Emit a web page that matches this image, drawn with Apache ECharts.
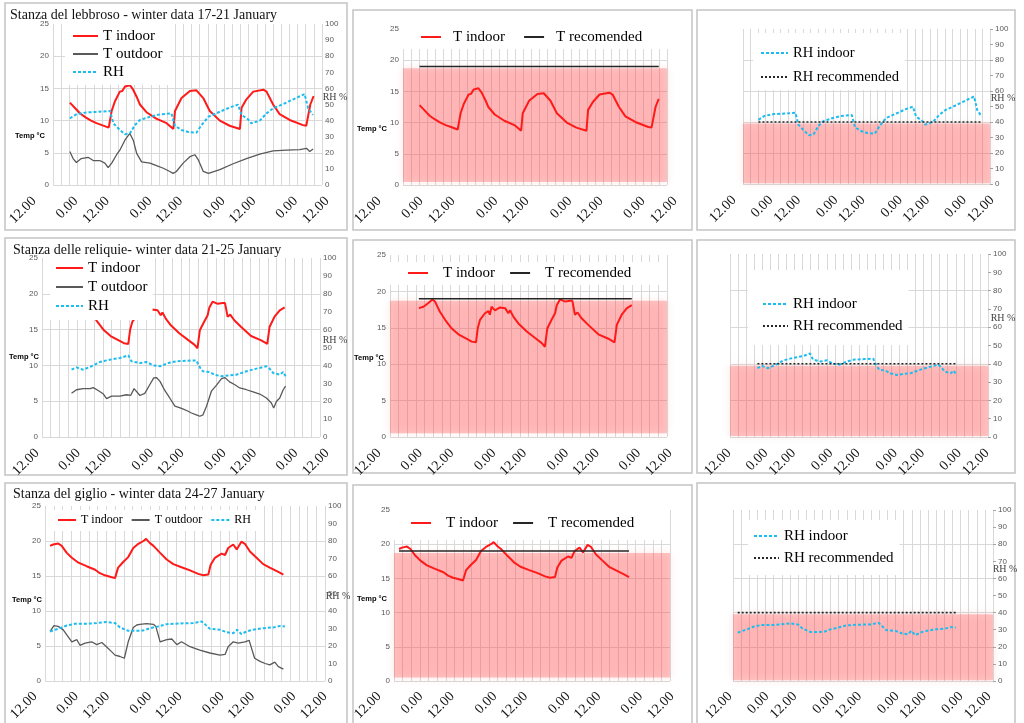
<!DOCTYPE html>
<html>
<head>
<meta charset="utf-8">
<title>Winter data</title>
<script src="https://cdn.jsdelivr.net/npm/echarts@6/dist/echarts.min.js"></script>
<style>
html, body { margin: 0; padding: 0; background: #fff; }
#main { width: 1024px; height: 723px; }
</style>
</head>
<body>
<div id="main"></div>
<script>
// x tick labels of the time axis (half-day slots)
var tickLabels = ['12.00', '0.00', '12.00', '0.00', '12.00', '0.00', '12.00', '0.00', '12.00'];
var tickPos = [0, 0.57, 1, 1.58, 2, 2.58, 3, 3.57, 4];

var tRecommended = 19;
var rhRecommended = 40;
var tCritical = 18.7;
var rhCritical = 39;

// Stanza del lebbroso, 17-21 January: [hour, value]
var lebTIn = [[6.2,12.8],[8,12.0],[10,11.1],[12,10.5],[14,10.0],[16,9.6],[18,9.3],[20.5,8.9],[21,8.7],
  [21.6,11.5],[22.8,13.0],[24.6,14.5],[25.5,14.6],[26.5,15.3],[28.3,15.5],[29.5,14.8],[31,13.5],[32,12.5],
  [34.4,11.3],[38,10.3],[41.8,9.6],[44.3,8.7],[44.9,11.5],[47.3,13.5],[50.4,14.6],[52.8,14.7],[53.4,14.9],
  [55.3,13.5],[57.7,11.5],[61.4,10.0],[65,9.2],[68.8,8.7],[69.4,12.0],[71.2,13.3],[73.7,14.5],[77.4,14.8],
  [78.6,14.5],[81,12.5],[83.4,11.0],[87.1,10.1],[92,9.3],[93.2,9.2],[94.7,12.5],[95.9,13.8]];
var lebTOut = [[6.2,5.2],[7.4,4.1],[8.6,3.5],[10.4,4.1],[12.9,4.3],[14.8,3.8],[17.2,3.8],[19.1,3.4],[20.3,2.7],
  [21.6,3.4],[23.4,4.7],[24.6,5.4],[26.5,7.0],[28.3,8.0],[29.5,7.0],[30.8,4.9],[32.6,3.6],[35.7,3.4],[38.1,3.0],
  [40.6,2.6],[43,2.1],[44.2,1.8],[45.4,2.1],[47.9,3.4],[50.4,4.4],[52.2,4.7],[53.5,3.9],[55.3,2.1],[57.2,1.8],
  [61.4,2.4],[66.3,3.3],[71.2,4.1],[76.1,4.8],[81,5.3],[85.9,5.4],[90.8,5.5],[93.3,5.7],[94.5,5.2],[95.7,5.6]];
var lebRH = [[6.2,41.4],[8.6,43.9],[12.3,45.1],[17.2,45.5],[21,46.0],[22.2,38.3],[24.6,34.2],[26.5,31.5],
  [28.3,32.1],[30.2,37.3],[32,40.4],[35.7,42.4],[39.4,43.9],[43.6,44.5],[44.9,36.6],[47.3,34.2],[49.8,32.9],
  [52.8,32.5],[54.7,37.3],[57.2,42.4],[61.4,45.5],[65.1,48.2],[68.1,49.9],[69.4,43.5],[71.8,40.8],[73,38.3],
  [76.1,40.0],[78.6,44.5],[81,47.6],[84.7,50.3],[88.4,53.2],[92.6,56.5],[93.9,47.6],[95.7,43.5]];

// Stanza delle reliquie, 21-25 January
var relTIn = [[10,17.7],[11.6,17.9],[13.3,18.4],[14.7,18.9],[15.6,18.6],[17.3,17.2],[19.1,16.1],[21.4,14.9],
  [23.7,14.1],[26,13.6],[28.3,13.1],[29.8,13.0],[30.4,14.9],[31.2,16.1],[32.9,17.0],[34.1,17.3],[34.6,16.8],
  [35.2,17.9],[36.4,17.4],[38.1,17.8],[39.9,17.7],[41,17.0],[41.6,17.4],[42.8,16.5],[44.5,15.6],[47.4,14.5],
  [50.3,13.6],[52.6,12.9],[53.7,12.4],[54.5,14.9],[56,16.1],[57.2,17.0],[57.8,18.1],[58.9,18.9],[60.7,18.6],
  [62.4,18.7],[63.2,18.7],[64.1,16.8],[65,17.1],[66.4,16.3],[68.7,15.4],[72.2,14.1],[75.7,13.5],[77.8,13.0],
  [78.6,15.4],[80.3,16.8],[82.1,17.7],[83.8,18.1]];
var relTOut = [[10.2,6.1],[11.9,6.6],[14.2,6.75],[16.6,6.75],[17.7,6.9],[19.4,6.5],[21.2,6.0],[22.3,5.35],
  [24,5.7],[26.9,5.7],[29.2,5.9],[30.6,5.8],[31.8,6.75],[33.8,5.8],[35.5,6.1],[37.2,7.3],[38.6,8.25],[39.5,8.3],
  [40.7,7.8],[42.4,6.5],[44.1,5.45],[45.9,4.3],[48.2,4.0],[50.5,3.6],[51.6,3.35],[53.3,3.1],[54.5,2.9],[55.6,3.1],
  [56.8,4.3],[58.5,6.4],[60.2,7.2],[62,8.15],[63.1,8.3],[64.8,7.7],[66.6,7.3],[68.3,6.85],[70.6,6.6],[72.9,6.3],
  [75.2,6.0],[77.5,5.45],[79.2,4.75],[80,4.05],[81,5.0],[82.1,5.45],[83.3,6.6],[84.1,7.1]];
var relRH = [[10.2,37.6],[11.9,38.9],[14.2,37.6],[17.1,39.5],[20,41.9],[23.4,43.2],[26.9,44.1],[29.8,45.6],
  [30.9,42.3],[33.8,41.3],[36.1,41.9],[38.4,40.0],[40.7,39.5],[43.6,41.3],[46.4,42.3],[49.9,42.6],[53.3,42.8],
  [54.5,38.9],[55.6,36.7],[57.9,36.3],[59.6,34.8],[62,33.9],[64.8,34.5],[67.1,34.8],[70.6,36.7],[74,38.2],
  [77.5,39.5],[78.6,38.2],[79.8,35.8],[82.1,34.8],[83.3,36.3],[84.1,33.9]];

// Stanza del giglio, 24-27 January
var gigTIn = [[1.3,19.3],[2.1,19.5],[3.4,19.65],[4.3,19.3],[5.6,18.3],[6.9,17.6],[8.6,16.9],[10.7,16.4],
  [12.9,15.9],[14.1,15.4],[15.4,15.1],[16.7,14.9],[18,14.7],[18.8,16.2],[20.1,17.0],[21.4,17.7],[22.7,19.0],
  [24,19.6],[25.3,20.0],[26,20.3],[27,19.7],[27.9,19.3],[29.6,18.3],[31.3,17.35],[33,16.7],[35.1,16.25],
  [37.3,15.8],[39.4,15.3],[40.7,15.1],[42,15.2],[42.6,16.6],[43.7,17.6],[45.4,18.2],[46.3,18.0],[47.1,19.0],
  [48.4,19.5],[49.3,18.8],[50.5,19.9],[51.4,19.6],[52.7,18.5],[54.4,17.6],[56.1,16.7],[57.8,16.2],[60,15.6],
  [61.3,15.2]];
var gigTOut = [[1.3,7.1],[2.3,7.9],[3.4,7.8],[4.7,7.3],[5.6,6.6],[6.9,5.6],[8.2,5.9],[9,5.1],[10.3,5.4],
  [12,5.6],[13.3,5.2],[14.6,5.5],[15.8,4.9],[17.1,4.2],[18,3.7],[19.3,3.5],[20.4,3.25],[21.4,5.6],[22.7,7.65],
  [23.6,8.0],[24.4,8.1],[26.1,8.2],[27.9,8.1],[28.5,7.8],[29.6,5.6],[31.3,5.9],[32.6,6.0],[33.9,5.2],[35.1,5.6],
  [37.3,4.9],[39.8,4.4],[42.4,4.0],[45,3.7],[46.3,3.8],[47.1,4.9],[48.4,5.6],[49.7,5.4],[51.4,5.6],[52.5,5.8],
  [53.1,4.7],[53.9,3.25],[55.3,2.8],[56.6,2.5],[57.8,2.3],[59.1,2.7],[60,2.05],[61.3,1.7]];
var gigRH = [[1.3,28.3],[2.6,29.3],[3.9,30.2],[5.6,31.7],[7.7,32.7],[10.7,32.7],[13.3,33.1],[15.8,33.7],
  [18,33.1],[19.3,30.6],[21.4,28.7],[23.6,28.7],[25.3,28.9],[27,30.2],[29.1,31.2],[31.3,32.5],[34.7,32.9],
  [38.1,33.1],[40.3,34.0],[41.1,32.5],[42.4,29.8],[45,29.3],[46.7,27.9],[48.4,27.3],[49.4,29.3],[50.5,26.8],
  [51.8,28.3],[53.5,29.3],[56.1,30.2],[58.7,30.6],[60.4,31.5],[61.7,31.2]];

var SERIF = 'Liberation Serif';
var SANS = 'Liberation Sans';
var GRIDLINE = '#d9d9d9';

var styles = {
    tin:   { color: '#ff1a1a', width: 2, type: 'solid' },
    tout:  { color: '#595959', width: 1.3, type: 'solid' },
    rh:    { color: '#1bbdf0', width: 2, type: [3, 2] },
    trec:  { color: '#262626', width: 1.6, type: 'solid' },
    rhrec: { color: '#262626', width: 1.6, type: [2, 2] }
};

function recLine(src, v) {
    return [[src[0][0], v], [src[src.length - 1][0], v]];
}

var option = {
    animation: false,
    backgroundColor: '#fff',
    grid: [], xAxis: [], yAxis: [], series: [], legend: [], graphic: []
};

function addPanel(p) {
    var gi = option.grid.length;
    option.grid.push({ left: p.plot[0], top: p.plot[1], width: p.plot[2], height: p.plot[3] });
    var xi = option.xAxis.length;
    option.xAxis.push({
        type: 'value', gridIndex: gi, min: 0, max: p.hours, interval: p.step,
        axisLine: { show: false }, axisTick: { show: false }, axisLabel: { show: false },
        splitLine: { show: true, lineStyle: { color: GRIDLINE, width: 1 } }
    });
    var yl = option.yAxis.length;
    if (p.temp) {
        option.yAxis.push({
            type: 'value', gridIndex: gi, min: 0, max: 25, interval: 5,
            axisLine: { show: false }, axisTick: { show: false },
            axisLabel: { fontFamily: SANS, fontSize: 8, color: '#595959', margin: 4 },
            splitLine: { showMaxLine: false, lineStyle: { color: GRIDLINE } }
        });
    } else {
        option.yAxis.push({
            type: 'value', gridIndex: gi, min: 0, max: 100, interval: 20,
            axisLine: { show: false }, axisTick: { show: false }, axisLabel: { show: false },
            splitLine: { showMaxLine: false, lineStyle: { color: GRIDLINE } }
        });
    }
    var yr = yl;
    if (p.rh) {
        yr = option.yAxis.length;
        option.yAxis.push({
            type: 'value', gridIndex: gi, position: 'right', min: 0, max: 100, interval: 10,
            axisLine: { show: false },
            axisTick: { show: !p.temp, length: 3, lineStyle: { color: '#a6a6a6' } },
            axisLabel: { fontFamily: SANS, fontSize: 8, color: '#595959', margin: p.temp ? 3 : 5 },
            splitLine: { show: false }
        });
    }
    p.series.forEach(function (s) {
        var st = styles[s.style];
        var ser = {
            type: 'line', name: s.name, xAxisIndex: xi, yAxisIndex: s.right ? yr : yl,
            data: s.data, symbol: 'none', showSymbol: false, silent: true,
            lineStyle: { color: st.color, width: st.width, type: st.type },
            itemStyle: { color: st.color }
        };
        if (s.band != null) {
            ser.markArea = {
                silent: true,
                itemStyle: { color: 'rgba(255,70,70,0.3)', shadowBlur: 8, shadowColor: 'rgba(255,70,70,0.45)' },
                data: [[{ yAxis: 0.5 }, { yAxis: s.band }]]
            };
        }
        option.series.push(ser);
    });

    // rotated time labels sit on their own axis
    var lg = option.grid.length;
    option.grid.push({ left: p.ticks[0], width: p.ticks[1] - p.ticks[0], top: p.ticks[2], height: 1 });
    option.xAxis.push({
        type: 'value', gridIndex: lg, min: 0, max: 4,
        axisLine: { show: false }, axisTick: { show: false }, splitLine: { show: false },
        axisLabel: {
            customValues: tickPos, rotate: 45, margin: 13,
            fontFamily: SERIF, fontSize: 14, color: '#111',
            formatter: function (v) {
                for (var i = 0; i < tickPos.length; i++) {
                    if (Math.abs(tickPos[i] - v) < 1e-6) return tickLabels[i];
                }
                return '';
            }
        }
    });
    option.yAxis.push({ type: 'value', gridIndex: lg, show: false });

    var L = p.legend;
    option.legend.push({
        data: p.series.map(function (s) { return s.name; }),
        left: L.left, top: L.top, orient: L.orient, padding: L.padding,
        itemGap: L.gap, itemWidth: L.w, itemHeight: 12,
        itemStyle: { opacity: 0 },
        backgroundColor: '#fff', selectedMode: false,
        textStyle: { fontFamily: SERIF, fontSize: L.font, color: '#000', lineHeight: L.lh, padding: [0, 0, 0, L.tp || 0] }
    });

    option.graphic.push({
        type: 'rect', silent: true,
        shape: { x: p.box[0], y: p.box[1], width: p.box[2], height: p.box[3] },
        style: { fill: 'none', stroke: '#c4c4c4', lineWidth: 1.5 }
    });
    if (p.title) {
        option.graphic.push({
            type: 'text', x: p.title[0], y: p.title[1], silent: true,
            style: { text: p.title[2], font: '14px "Liberation Serif"', fill: '#111', textAlign: 'left', verticalAlign: 'middle' }
        });
    }
    if (p.tempLab) {
        option.graphic.push({
            type: 'text', x: p.tempLab[0], y: p.tempLab[1], silent: true,
            style: { text: 'Temp °C', font: 'bold 7.5px "Liberation Sans"', fill: '#000', textAlign: 'center', verticalAlign: 'middle' }
        });
    }
    if (p.rhLab) {
        option.graphic.push({
            type: 'text', x: p.rhLab[0], y: p.rhLab[1], silent: true,
            style: { text: 'RH %', font: '10px "Liberation Serif"', fill: '#404040', textAlign: 'center', verticalAlign: 'middle' }
        });
    }
}

var panels = [
    { plot: [53, 24, 269, 161], ticks: [34, 327, 185], hours: 99, step: 3, temp: true, rh: true,
      series: [{ name: 'T indoor', data: lebTIn, style: 'tin' },
               { name: 'T outdoor', data: lebTOut, style: 'tout' },
               { name: 'RH', data: lebRH, style: 'rh', right: true }],
      legend: { left: 65, top: 24, orient: 'vertical', padding: [3, 8, 4, 7], gap: 0, w: 25, font: 15, lh: 18 },
      title: [10, 15, 'Stanza del lebbroso - winter data 17-21 January'],
      tempLab: [30, 136], rhLab: [335, 97], box: [5, 3, 342, 227] },
    { plot: [403, 29, 264, 156], ticks: [379, 675, 185], hours: 99, step: 3, temp: true, rh: false,
      series: [{ name: 'T indoor', data: lebTIn, style: 'tin', band: tCritical },
               { name: 'T recomended', data: recLine(lebTIn, tRecommended), style: 'trec' }],
      legend: { left: 403, top: 27, orient: 'horizontal', padding: [1, 36, 3, 17], gap: 18, w: 20, font: 15, lh: 18, tp: 7 },
      tempLab: [372, 129], box: [353, 10, 339, 220] },
    { plot: [743, 29, 247, 155], ticks: [734, 992, 184], hours: 99, step: 3, temp: false, rh: true,
      series: [{ name: 'RH indoor', data: lebRH, style: 'rh', right: true, band: rhCritical },
               { name: 'RH recommended', data: recLine(lebRH, rhRecommended), style: 'rhrec', right: true }],
      legend: { left: 753, top: 33, orient: 'vertical', padding: [11, 6, 4, 7], gap: 6, w: 27, font: 14.5, lh: 18 },
      rhLab: [1003, 98], box: [697, 10, 318, 220] },

    { plot: [42, 258, 278, 179], ticks: [37, 327, 437], hours: 96, step: 3, temp: true, rh: true,
      series: [{ name: 'T indoor', data: relTIn, style: 'tin' },
               { name: 'T outdoor', data: relTOut, style: 'tout' },
               { name: 'RH', data: relRH, style: 'rh', right: true }],
      legend: { left: 50, top: 258, orient: 'vertical', padding: [1, 5, 5, 5], gap: 1, w: 27, font: 15, lh: 18 },
      title: [13, 250, 'Stanza delle reliquie- winter data 21-25 January'],
      tempLab: [24, 357], rhLab: [335, 340], box: [5, 238, 342, 237] },
    { plot: [390, 255, 277, 182], ticks: [379, 670, 437], hours: 96, step: 3, temp: true, rh: false,
      series: [{ name: 'T indoor', data: relTIn, style: 'tin', band: tCritical },
               { name: 'T recomended', data: recLine(relTIn, tRecommended), style: 'trec' }],
      legend: { left: 390, top: 262, orient: 'horizontal', padding: [2, 30, 3, 17], gap: 14, w: 20, font: 15, lh: 18, tp: 10 },
      tempLab: [369, 358], box: [353, 240, 339, 233] },
    { plot: [730, 254, 258, 183], ticks: [729, 987, 437], hours: 96, step: 3, temp: false, rh: true,
      series: [{ name: 'RH indoor', data: relRH, style: 'rh', right: true, band: rhCritical },
               { name: 'RH recommended', data: recLine(relRH, rhRecommended), style: 'rhrec', right: true }],
      legend: { left: 748, top: 270, orient: 'vertical', padding: [25, 6, 10, 14], gap: 4, w: 25, font: 15, lh: 18 },
      rhLab: [1003, 318], box: [697, 240, 318, 233] },

    { plot: [45, 506, 280, 175], ticks: [35, 325, 681], hours: 72, step: 2.25, temp: true, rh: true,
      series: [{ name: 'T indoor', data: gigTIn, style: 'tin' },
               { name: 'T outdoor', data: gigTOut, style: 'tout' },
               { name: 'RH', data: gigRH, style: 'rh', right: true }],
      legend: { left: 50, top: 510, orient: 'horizontal', padding: [3, 5, 4, 7], gap: 8, w: 18, font: 12, lh: 14 },
      title: [13, 494, 'Stanza del giglio - winter data 24-27 January'],
      tempLab: [27, 600], rhLab: [338, 596], box: [5, 483, 342, 245] },
    { plot: [394, 510, 276, 171], ticks: [379, 672, 681], hours: 72, step: 2.25, temp: true, rh: false,
      series: [{ name: 'T indoor', data: gigTIn, style: 'tin', band: tCritical },
               { name: 'T recomended', data: recLine(gigTIn, tRecommended), style: 'trec' }],
      legend: { left: 394, top: 510, orient: 'horizontal', padding: [4, 30, 8, 16], gap: 14, w: 20, font: 15, lh: 18, tp: 10 },
      tempLab: [372, 599], box: [353, 485, 339, 240] },
    { plot: [733, 510, 260, 171], ticks: [730, 989, 681], hours: 72, step: 2.25, temp: false, rh: true,
      series: [{ name: 'RH indoor', data: gigRH, style: 'rh', right: true, band: rhCritical },
               { name: 'RH recommended', data: recLine(gigRH, rhRecommended), style: 'rhrec', right: true }],
      legend: { left: 748, top: 520, orient: 'vertical', padding: [7, 6, 8, 5], gap: 4, w: 25, font: 15, lh: 18 },
      rhLab: [1005, 569], box: [697, 483, 318, 245] }
];

panels.forEach(addPanel);

var myChart = echarts.init(document.getElementById('main'));
myChart.setOption(option);
window.addEventListener('resize', function () {
    myChart.resize();
});
</script>
</body>
</html>
